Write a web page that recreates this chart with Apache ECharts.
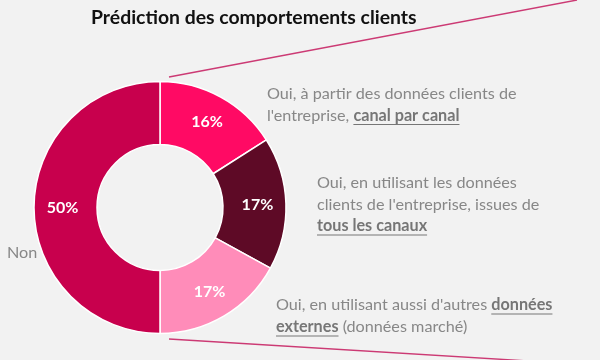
<!DOCTYPE html>
<html><head><meta charset="utf-8">
<script src="https://cdn.jsdelivr.net/npm/echarts@6/dist/echarts.min.js"></script>
<style>html,body{margin:0;padding:0;background:#f2f2f2}#c{width:600px;height:360px}</style>
</head><body><div id="c"></div>
<script>
const title = "Prédiction des comportements clients";
const categories = [
  "Oui, à partir des données clients de l'entreprise, canal par canal",
  "Oui, en utilisant les données clients de l'entreprise, issues de tous les canaux",
  "Oui, en utilisant aussi d'autres données externes (données marché)",
  "Non"
];
const values = [16, 17, 17, 50];
const colors = ['#ff0a64', '#5e0a26', '#ff8cb9', '#c8004d'];
// annotation lines: each segment [text, emphasised]
const note1 = [[["Oui, à partir des données clients de", false]], [["l'entreprise, ", false], ["canal par canal", true]]];
const note2 = [[["Oui, en utilisant les données", false]], [["clients de l'entreprise, issues de", false]], [["tous les canaux", true]]];
const note3 = [[["Oui, en utilisant aussi d'autres ", false], ["données", true]], [["externes", true], [" (données marché)", false]]];
const note4 = [[["Non", false]]];

const FONT = 'Lato';
const FS = 16.2;
const cv = document.createElement('canvas').getContext('2d');
function tw(t, bold) { cv.font = (bold ? 'bold ' : '') + FS + 'px ' + FONT; return cv.measureText(t).width; }

function noteBlock(lines, x, y, lh) {
  const els = [];
  lines.forEach((segs, i) => {
    let cx = x; const cy = y + i * lh;
    segs.forEach(([t, em]) => {
      const w = tw(t, em);
      els.push({type: 'text', x: cx, y: cy, silent: true,
        style: {text: t, font: (em ? 'bold ' : '') + FS + 'px ' + FONT, fill: em ? '#767676' : '#878787', verticalAlign: 'middle', align: 'left'}});
      if (em) {
        const wt = tw(t.replace(/\s+$/, ''), em);
        els.push({type: 'line', silent: true, shape: {x1: cx, y1: cy + 9, x2: cx + wt, y2: cy + 9}, style: {stroke: '#767676', lineWidth: 1}});
      }
      cx += w;
    });
  });
  return els;
}

const chart = echarts.init(document.getElementById('c'));
chart.setOption({
  backgroundColor: '#f2f2f2',
  animation: false,
  series: [{
    type: 'pie',
    center: [160, 207.5],
    radius: [63, 126],
    startAngle: 90,
    clockwise: true,
    silent: true,
    data: categories.map((n, i) => ({name: n, value: values[i], itemStyle: {color: colors[i]}})),
    itemStyle: {borderColor: '#ffffff', borderWidth: 1.5},
    label: {show: true, position: 'inside', formatter: '{c}%', color: '#ffffff', fontFamily: FONT, fontWeight: 'bold', fontSize: 16},
    labelLine: {show: false}
  }],
  graphic: [
    {type: 'text', x: 91, y: 18, silent: true, style: {text: title, font: 'bold 19.4px ' + FONT, fill: '#111111', verticalAlign: 'middle'}},
    {type: 'line', silent: true, shape: {x1: 169, y1: 77, x2: 577, y2: 0}, style: {stroke: '#cc3a74', lineWidth: 1.4}},
    {type: 'line', silent: true, shape: {x1: 169, y1: 339, x2: 545, y2: 362}, style: {stroke: '#cc3a74', lineWidth: 1.4}},
    ...noteBlock(note1, 267, 94, 21.5),
    ...noteBlock(note2, 317, 183, 21.5),
    ...noteBlock(note3, 276, 305, 22),
    ...noteBlock(note4, 7, 253, 21)
  ]
});
</script></body></html>
